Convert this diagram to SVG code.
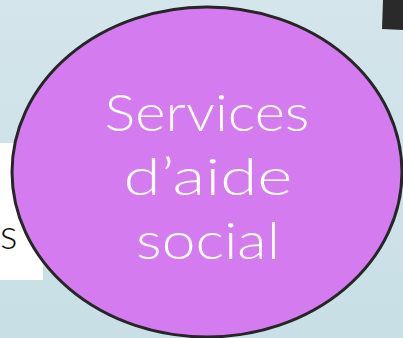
<svg xmlns="http://www.w3.org/2000/svg" width="403" height="338" viewBox="0 0 403 338">
<defs>
<linearGradient id="bg" x1="0" y1="0" x2="0" y2="1">
<stop offset="0" stop-color="#d4e5eb"/>
<stop offset="1" stop-color="#c8dfe6"/>
</linearGradient>
<style>
.lbl{font-family:"Lato","Open Sans","Liberation Sans",sans-serif;font-weight:300;fill:#ffffff;font-size:52px;text-anchor:middle}
.side{font-family:"Lato","Open Sans","Liberation Sans",sans-serif;font-weight:300;fill:#111111;font-size:41px}
</style>
</defs>
<rect width="403" height="338" fill="url(#bg)"/>
<g id="node-left">
<rect x="0" y="143" width="43" height="137" fill="#ffffff"/>
<text class="side" x="0" y="249">s</text>
</g>
<g id="node-topright">
<polygon points="383,0 403,0 403,30 382,29" fill="#2a2a2a"/>
</g>
<g id="node-services">
<ellipse cx="207" cy="172" rx="195" ry="165" fill="#d57bf0" stroke="#262626" stroke-width="3"/>
<text class="lbl" x="207" y="131" textLength="205" lengthAdjust="spacingAndGlyphs">Services</text>
<text class="lbl" x="208" y="195" textLength="169" lengthAdjust="spacingAndGlyphs">d’aide</text>
<text class="lbl" x="208" y="259" textLength="144" lengthAdjust="spacingAndGlyphs">social</text>
</g>
<g id="connectors"></g>
</svg>
